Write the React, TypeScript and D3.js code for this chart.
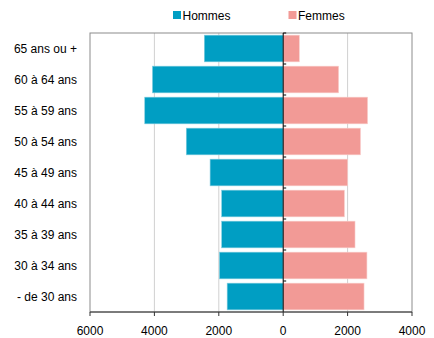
import React from "react";
import * as d3 from "d3";

const categories = ["65 ans ou +", "60 à 64 ans", "55 à 59 ans", "50 à 54 ans", "45 à 49 ans", "40 à 44 ans", "35 à 39 ans", "30 à 34 ans", "- de 30 ans"];
const hommes = [2450, 4060, 4300, 3010, 2270, 1910, 1910, 1980, 1740];
const femmes = [500, 1720, 2620, 2400, 2000, 1900, 2230, 2600, 2510];
const xTicks = [-6000, -4000, -2000, 0, 2000, 4000];
const series = ["Hommes", "Femmes"];
const colors = ["#009EC3", "#F29A96"];

export default function App() {
  const W = 434, H = 338;
  const left = 90, right = 412, top = 33, bottom = 312;
  const x = d3.scaleLinear().domain([-6000, 4000]).range([left, right]);
  const y = d3.scaleBand<string>().domain(categories).range([top, bottom]).paddingInner(0.14).paddingOuter(0.07);
  const yb = d3.scaleBand<string>().domain(categories).range([top, bottom]);
  const font = "'Liberation Sans', Arial, sans-serif";
  return (
    <svg width={W} height={H} style={{ position: "absolute", left: 0, top: 0 }} fontFamily={font}>
      <rect x={0} y={0} width={W} height={H} fill="#fff" />
      {/* legend */}
      {series.map((s, i) => {
        const lx = i === 0 ? 173 : 288.5;
        return (
          <g key={s}>
            <rect x={lx} y={11} width={8} height={8} fill={colors[i]} />
            <text x={lx + 9.5} y={19.5} fontSize={12} fill="#000">{s}</text>
          </g>
        );
      })}
      {/* gridlines */}
      {xTicks.filter(t => t !== 0 && t !== -6000 && t !== 4000).map(t => (
        <line key={t} x1={x(t)} x2={x(t)} y1={top} y2={bottom} stroke="#d0d0d0" strokeWidth={1} />
      ))}
      {/* frame */}
      <rect x={left} y={top} width={right - left} height={bottom - top} fill="none" stroke="#8c8c8c" strokeWidth={1} />
      {/* bars */}
      {categories.map((c, i) => (
        <g key={c}>
          <rect x={x(-hommes[i])} y={y(c)!} width={x(0) - x(-hommes[i])} height={y.bandwidth()} fill={colors[0]} stroke="#7fcde0" strokeWidth={0.6} />
          <rect x={x(0)} y={y(c)!} width={x(femmes[i]) - x(0)} height={y.bandwidth()} fill={colors[1]} stroke="#f8cdcb" strokeWidth={0.6} />
        </g>
      ))}
      {/* zero axis */}
      <line x1={x(0)} x2={x(0)} y1={top} y2={bottom} stroke="#000" strokeWidth={1} />
      {categories.map((c, i) => (
        <line key={"t" + i} x1={x(0)} x2={x(0) + 3} y1={yb(c)!} y2={yb(c)!} stroke="#000" strokeWidth={1} />
      ))}
      {/* bottom axis */}
      <line x1={left} x2={right} y1={bottom} y2={bottom} stroke="#333" strokeWidth={1.2} />
      {xTicks.map(t => (
        <g key={t}>
          <line x1={x(t)} x2={x(t)} y1={bottom} y2={bottom + 4} stroke="#333" strokeWidth={1} />
          <text x={x(t)} y={335} fontSize={12} textAnchor="middle" fill="#000">{Math.abs(t)}</text>
        </g>
      ))}
      {/* category labels */}
      {categories.map(c => (
        <text key={c} x={77} y={yb(c)! + yb.bandwidth() / 2 + 4} fontSize={12} textAnchor="end" fill="#000">{c}</text>
      ))}
    </svg>
  );
}
